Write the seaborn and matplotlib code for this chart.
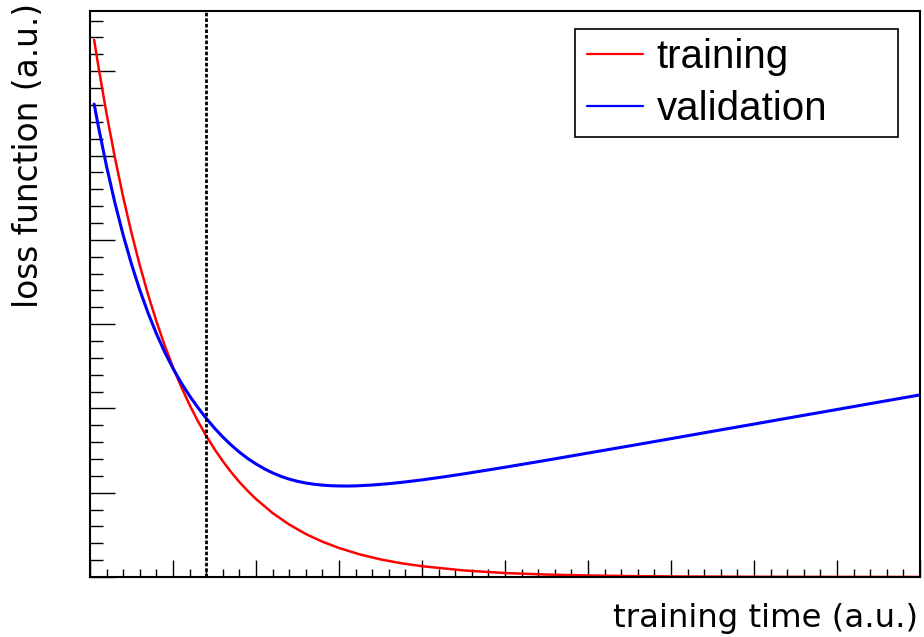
import numpy as np
import pandas as pd
import matplotlib
matplotlib.use("Agg")
import matplotlib.pyplot as plt
import seaborn as sns
from matplotlib.patches import Rectangle
from matplotlib.ticker import MultipleLocator, NullFormatter

# training time (a.u.) and loss values (a.u.)
time_train = [0.05, 0.1, 0.2, 0.3, 0.4, 0.5, 0.6, 0.7, 0.8, 0.9, 1.0, 1.1, 1.2,
              1.3, 1.4, 1.5, 1.6, 1.7, 1.8, 1.9, 2.0, 2.2, 2.4, 2.6, 2.8, 3.0,
              3.25, 3.5, 3.75, 4.0, 4.5, 5.0, 5.5, 6.0, 6.5, 7.0, 8.0, 9.0, 10.0]
loss_train = [6.372, 6.064, 5.493, 4.975, 4.506, 4.082, 3.697, 3.349, 3.033, 2.747,
              2.488, 2.254, 2.041, 1.849, 1.675, 1.517, 1.374, 1.244, 1.127, 1.021,
              0.925, 0.759, 0.622, 0.510, 0.419, 0.344, 0.268, 0.209, 0.163, 0.128,
              0.078, 0.047, 0.029, 0.018, 0.011, 0.0066, 0.0024, 0.0009, 0.0003]

time_valid = [0.05, 0.1, 0.2, 0.3, 0.4, 0.5, 0.6, 0.7, 0.8, 0.9, 1.0, 1.1, 1.2,
              1.3, 1.4, 1.5, 1.6, 1.7, 1.8, 1.9, 2.0, 2.1, 2.2, 2.3, 2.4, 2.5,
              2.6, 2.7, 2.8, 2.9, 3.0, 3.1, 3.2, 3.4, 3.6, 3.8, 4.0, 4.25, 4.5,
              5.0, 5.5, 6.0, 6.5, 7.0, 7.5, 8.0, 8.5, 9.0, 9.5, 10.0]
loss_valid = [5.610, 5.349, 4.869, 4.439, 4.055, 3.711, 3.404, 3.131, 2.886, 2.668,
              2.474, 2.302, 2.148, 2.010, 1.882, 1.766, 1.661, 1.566, 1.481, 1.406,
              1.341, 1.284, 1.235, 1.194, 1.161, 1.135, 1.115, 1.100, 1.090, 1.083,
              1.080, 1.079, 1.081, 1.091, 1.107, 1.128, 1.152, 1.186, 1.223,
              1.302, 1.385, 1.470, 1.555, 1.641, 1.728, 1.814, 1.901, 1.987, 2.074, 2.160]

early_stop = 1.4

series_names = ["training", "validation"]
series_colors = ["#ff0000", "#0000ff"]

df_train = pd.DataFrame({"time": time_train, "loss": loss_train})
df_valid = pd.DataFrame({"time": time_valid, "loss": loss_valid})

sns.set_style("white")
plt.rcParams["font.family"] = ["DejaVu Sans"]
plt.rcParams["lines.solid_joinstyle"] = "round"

fig = plt.figure(figsize=(9.24, 6.37), dpi=100)
ax = fig.add_axes([90 / 924, 1 - 577 / 637, 830 / 924, 566 / 637])

sns.lineplot(data=df_train, x="time", y="loss", ax=ax, color=series_colors[0],
             linewidth=1.8, label=series_names[0])
sns.lineplot(data=df_valid, x="time", y="loss", ax=ax, color=series_colors[1],
             linewidth=2.2, label=series_names[1])
ax.axvline(early_stop, color="black", linewidth=2.0, linestyle=(0, (1.3, 0.7)))

ax.set_xlim(0, 10)
ax.set_ylim(0, 566 / 84.3)

ax.xaxis.set_major_locator(MultipleLocator(1))
ax.xaxis.set_minor_locator(MultipleLocator(0.2))
ax.yaxis.set_major_locator(MultipleLocator(1))
ax.yaxis.set_minor_locator(MultipleLocator(0.2))
ax.xaxis.set_major_formatter(NullFormatter())
ax.yaxis.set_major_formatter(NullFormatter())
ax.tick_params(axis="x", which="major", direction="in", length=12, width=1.0,
               color="black", bottom=True, top=False)
ax.tick_params(axis="x", which="minor", direction="in", length=6, width=1.0,
               color="black", bottom=True, top=False)
ax.tick_params(axis="y", which="major", direction="in", length=18, width=1.0,
               color="black", left=True, right=False)
ax.tick_params(axis="y", which="minor", direction="in", length=9, width=1.0,
               color="black", left=True, right=False)

for sp in ax.spines.values():
    sp.set_visible(True)
    sp.set_color("black")
    sp.set_linewidth(1.5)

ax.set_xlabel("")
ax.set_ylabel("")
fig.text(918 / 924, 1 - 627 / 637, "training time (a.u.)", ha="right", va="baseline",
         fontsize=23.3, color="black")
fig.text(29 / 924, 1 - 3 / 637, "loss function (a.u.)", ha="center", va="top",
         rotation=90, fontsize=23.6, color="black")

# legend entries, with a fixed-size box drawn around them
leg = ax.legend(loc="upper left", bbox_to_anchor=((587 - 90) / 830, (577 - 38) / 566),
                borderaxespad=0, frameon=False, labelcolor="black",
                prop={"family": "Liberation Sans", "size": 29},
                handlelength=1.4, handletextpad=0.33, borderpad=0,
                labelspacing=0.36)
for line in leg.get_lines():
    line.set_linewidth(1.6)
box = Rectangle(((575 - 90) / 830, (577 - 137) / 566), (898 - 575) / 830, (137 - 29) / 566,
                transform=ax.transAxes, facecolor="white", edgecolor="black",
                linewidth=1.2, zorder=4)
ax.add_patch(box)
leg.set_zorder(5)

fig.savefig("out.png", dpi=100, facecolor="white")
